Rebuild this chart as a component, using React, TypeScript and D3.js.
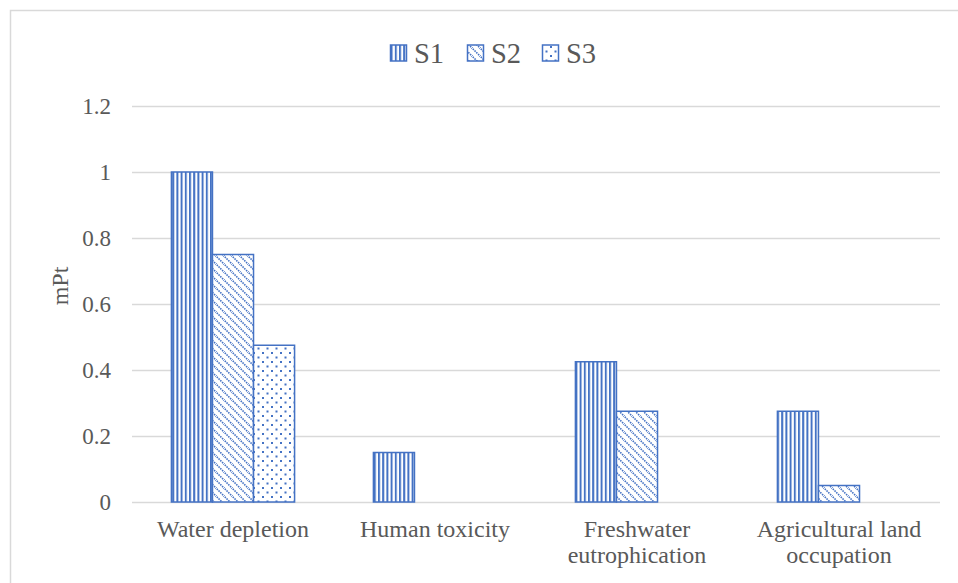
import React from 'react';
import * as d3 from 'd3';

const categories = [['Water depletion'], ['Human toxicity'], ['Freshwater', 'eutrophication'], ['Agricultural land', 'occupation']];
const seriesNames = ['S1', 'S2', 'S3'];
const s1 = [1.0, 0.15, 0.425, 0.275];
const s2 = [0.75, 0, 0.275, 0.05];
const s3 = [0.475, 0, 0, 0];
const yTicks = [0, 0.2, 0.4, 0.6, 0.8, 1, 1.2];

const blue = '#4472C4';
const grid = '#D9D9D9';
const textColor = '#595959';
const font = "'Liberation Serif', 'Times New Roman', serif";

export default function App() {
    const width = 958;
    const height = 583;
    const catKeys = categories.map(c => c.join(' '));
    const seriesValues = [s1, s2, s3];

    const x = d3.scaleBand().domain(catKeys).range([132, 940]).padding(0);
    const xSub = d3.scaleBand().domain(seriesNames).range([0, x.bandwidth()]).paddingInner(0).paddingOuter(0.96);
    const y = d3.scaleLinear().domain([0, 1.2]).range([502, 106]);

    const fills = ['url(#pat-s1)', 'url(#pat-s2)', 'url(#pat-s3)'];

    // legend positions
    const legendX = [390, 467, 542];
    const legendY = 53;

    return (
        <svg width={width} height={height} style={{ position: 'absolute', left: 0, top: 0, background: '#fff', fontFamily: font }}>
            <defs>
                <pattern id="pat-s1" patternUnits="userSpaceOnUse" width={4.2} height={4}>
                    <rect x={0} y={0} width={4.2} height={4} fill="#fff" />
                    <rect x={0} y={0} width={2} height={4} fill={blue} />
                </pattern>
                <pattern id="pat-s2" patternUnits="userSpaceOnUse" width={8} height={8}>
                    <rect x={0} y={0} width={8} height={8} fill="#fff" />
                    <line x1={-1} y1={-1} x2={9} y2={9} stroke={blue} strokeWidth={1.6} strokeDasharray="1.5 1" />
                    <line x1={-5} y1={3} x2={1} y2={9} stroke={blue} strokeWidth={1.6} />
                    <line x1={3} y1={-5} x2={9} y2={1} stroke={blue} strokeWidth={1.6} />
                </pattern>
                <pattern id="pat-s3" patternUnits="userSpaceOnUse" width={9} height={9}>
                    <rect x={0} y={0} width={9} height={9} fill="#fff" />
                    <rect x={1} y={1} width={2} height={2} fill={blue} />
                    <rect x={5.5} y={5.5} width={2} height={2} fill={blue} />
                </pattern>
            </defs>

            {/* chart border */}
            <rect x={10.5} y={10.5} width={width} height={height} fill="none" stroke={grid} strokeWidth={1.5} />

            {/* gridlines + y tick labels */}
            {yTicks.map(t => (
                <g key={t}>
                    <line x1={132} x2={940} y1={Math.round(y(t)) + 0.5} y2={Math.round(y(t)) + 0.5} stroke={grid} strokeWidth={1.5} />
                    <text x={111} y={y(t)} dy="0.35em" textAnchor="end" fontSize={23} fill={textColor}>
                        {d3.format('~g')(t)}
                    </text>
                </g>
            ))}

            {/* bars */}
            {seriesNames.map((s, si) => (
                <g key={s}>
                    {seriesValues[si].map((v, ci) => v > 0 ? (
                        <rect key={ci}
                            x={(x(catKeys[ci]) ?? 0) + (xSub(s) ?? 0)}
                            y={y(v)}
                            width={xSub.bandwidth()}
                            height={y(0) - y(v)}
                            fill={fills[si]}
                            stroke={blue}
                            strokeWidth={1.5} />
                    ) : null)}
                </g>
            ))}

            {/* category labels */}
            {categories.map((lines, ci) => (
                <text key={ci} x={(x(catKeys[ci]) ?? 0) + x.bandwidth() / 2} y={537} textAnchor="middle"
                    fontSize={24} fill={textColor}>
                    {lines.map((l, li) => (
                        <tspan key={li} x={(x(catKeys[ci]) ?? 0) + x.bandwidth() / 2} dy={li === 0 ? 0 : 26}>{l}</tspan>
                    ))}
                </text>
            ))}

            {/* y axis title */}
            <text transform={`translate(68, ${286}) rotate(-90)`} textAnchor="middle" fontSize={24} fill={textColor}>
                mPt
            </text>

            {/* legend */}
            {seriesNames.map((s, si) => (
                <g key={s}>
                    <rect x={legendX[si] + 0.5} y={legendY - 8} width={16} height={16} fill={fills[si]} stroke={blue} strokeWidth={1.5} />
                    <text x={legendX[si] + 24} y={legendY} dy="0.35em" fontSize={28.5} fill={textColor}>{s}</text>
                </g>
            ))}
        </svg>
    );
}
